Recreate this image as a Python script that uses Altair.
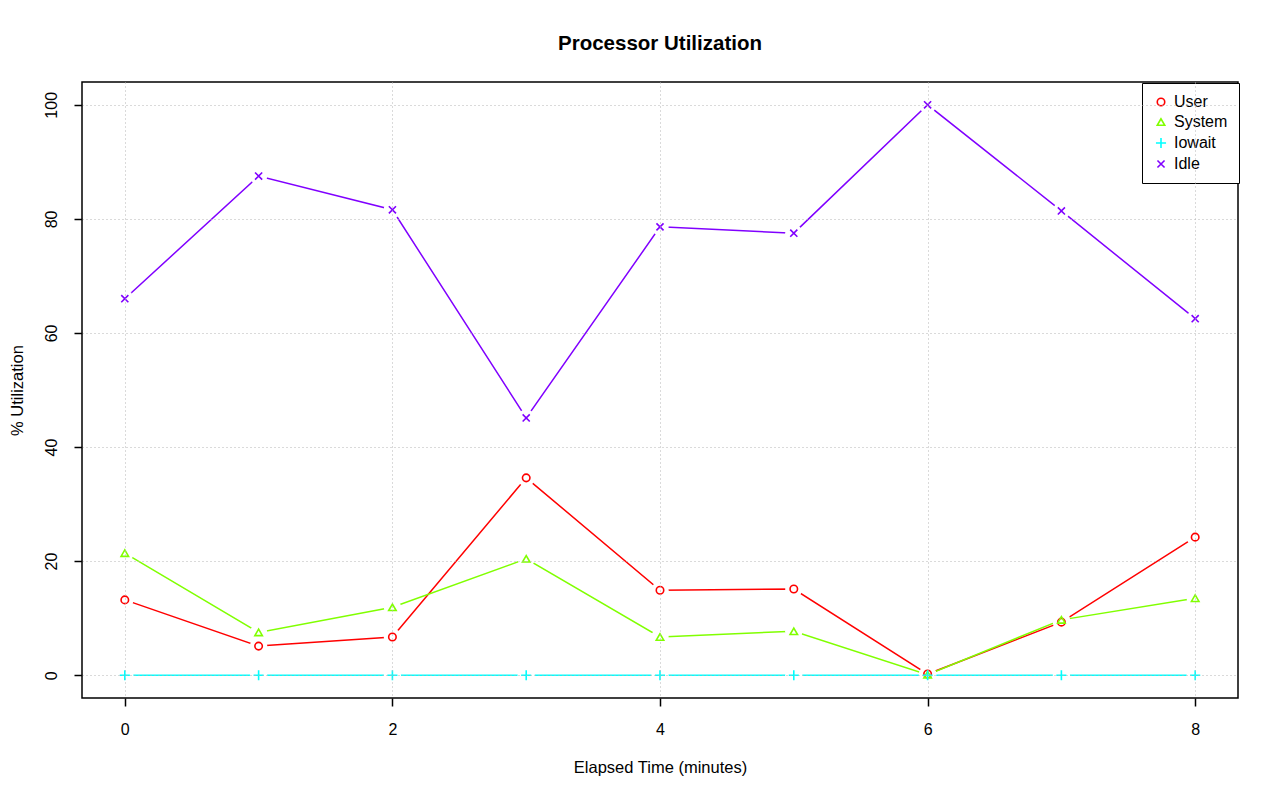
import altair as alt
import pandas as pd

minutes = [0, 1, 2, 3, 4, 5, 6, 7, 8]
user = [13.2, 5.1, 6.7, 34.6, 14.9, 15.1, 0.2, 9.3, 24.2]
system = [21.4, 7.5, 11.9, 20.4, 6.7, 7.7, 0.1, 9.7, 13.5]
iowait = [0, 0, 0, 0, 0, 0, 0, 0, 0]
idle = [66.0, 87.5, 81.6, 45.1, 78.6, 77.5, 100.0, 81.4, 62.5]

series_names = ["User", "System", "Iowait", "Idle"]
series_colors = ["#FF0000", "#80FF00", "#00FFFF", "#8000FF"]
plus_path = "M-1.35,0L1.35,0M0,-1.35L0,1.35"
x_path = "M-0.95,-0.95L0.95,0.95M-0.95,0.95L0.95,-0.95"
series_shapes = ["circle", "triangle-up", plus_path, x_path]

rows = []
for name, vals in zip(series_names, [user, system, iowait, idle]):
    for m, v in zip(minutes, vals):
        rows.append({"minute": m, "value": v, "series": name})
df = pd.DataFrame(rows)

xs = alt.Scale(domain=[-0.32, 8.32], nice=False, zero=False)
ys = alt.Scale(domain=[-4, 104], nice=False, zero=False)

x_enc = alt.X("minute:Q", scale=xs,
              axis=alt.Axis(title="Elapsed Time (minutes)", values=[0, 2, 4, 6, 8],
                            labelPadding=15, titlePadding=22, zindex=1))
y_enc = alt.Y("value:Q", scale=ys,
              axis=alt.Axis(title="% Utilization", values=[0, 20, 40, 60, 80, 100],
                            labelAngle=270, labelAlign="center", labelBaseline="bottom",
                            labelPadding=15, titlePadding=18, zindex=1))
legend = alt.Legend(title=None, orient="none", legendX=1060, legendY=1,
                    strokeColor="black", fillColor="white",
                    padding=11, rowPadding=4, labelOffset=5,
                    labelFontSize=16, labelFont="Liberation Sans",
                    labelColor="black",
                    symbolSize=56, symbolStrokeWidth=1.6,
                    symbolFillColor="transparent")
color_scale = alt.Scale(domain=series_names, range=series_colors)
color_enc = alt.Color("series:N", scale=color_scale, sort=series_names, legend=legend)
shape_enc = alt.Shape("series:N",
                      scale=alt.Scale(domain=series_names, range=series_shapes),
                      sort=series_names, legend=legend)

lines = alt.Chart(df).mark_line(strokeWidth=1.5).encode(
    x=x_enc, y=y_enc,
    color=color_enc,
    detail="series:N",
)

# white halos give the gaps of R's type="b" lines around each point
halos = alt.Chart(df).mark_point(shape="circle", filled=True, size=300, opacity=1,
                                 strokeWidth=0).encode(
    x=x_enc, y=y_enc, color=alt.value("white"),
)

points = alt.Chart(df).mark_point(filled=False, size=56, strokeWidth=1.6, opacity=1).encode(
    x=x_enc, y=y_enc, color=color_enc, shape=shape_enc,
)

chart = alt.layer(lines, halos, points).properties(
    width=1156, height=616,
    title=alt.TitleParams("Processor Utilization", fontSize=20.5, font="Liberation Sans",
                          fontWeight="bold", anchor="middle", offset=28, color="black"),
    autosize=alt.AutoSizeParams(type="none"),
    padding={"left": 74, "top": 74, "right": 30, "bottom": 90},
).configure_view(
    stroke="black", strokeWidth=1.5
).configure_axis(
    domain=False, grid=True, gridColor="#B4B4B4", gridDash=[1, 3], gridWidth=1,
    tickColor="black", tickSize=8, tickWidth=1.5,
    labelFont="Liberation Sans", labelFontSize=16, labelColor="black",
    titleFont="Liberation Sans", titleFontSize=16.5, titleFontWeight="normal", titleColor="black",
)

chart.save("out.html", embed_options={"renderer": "svg", "actions": False})
